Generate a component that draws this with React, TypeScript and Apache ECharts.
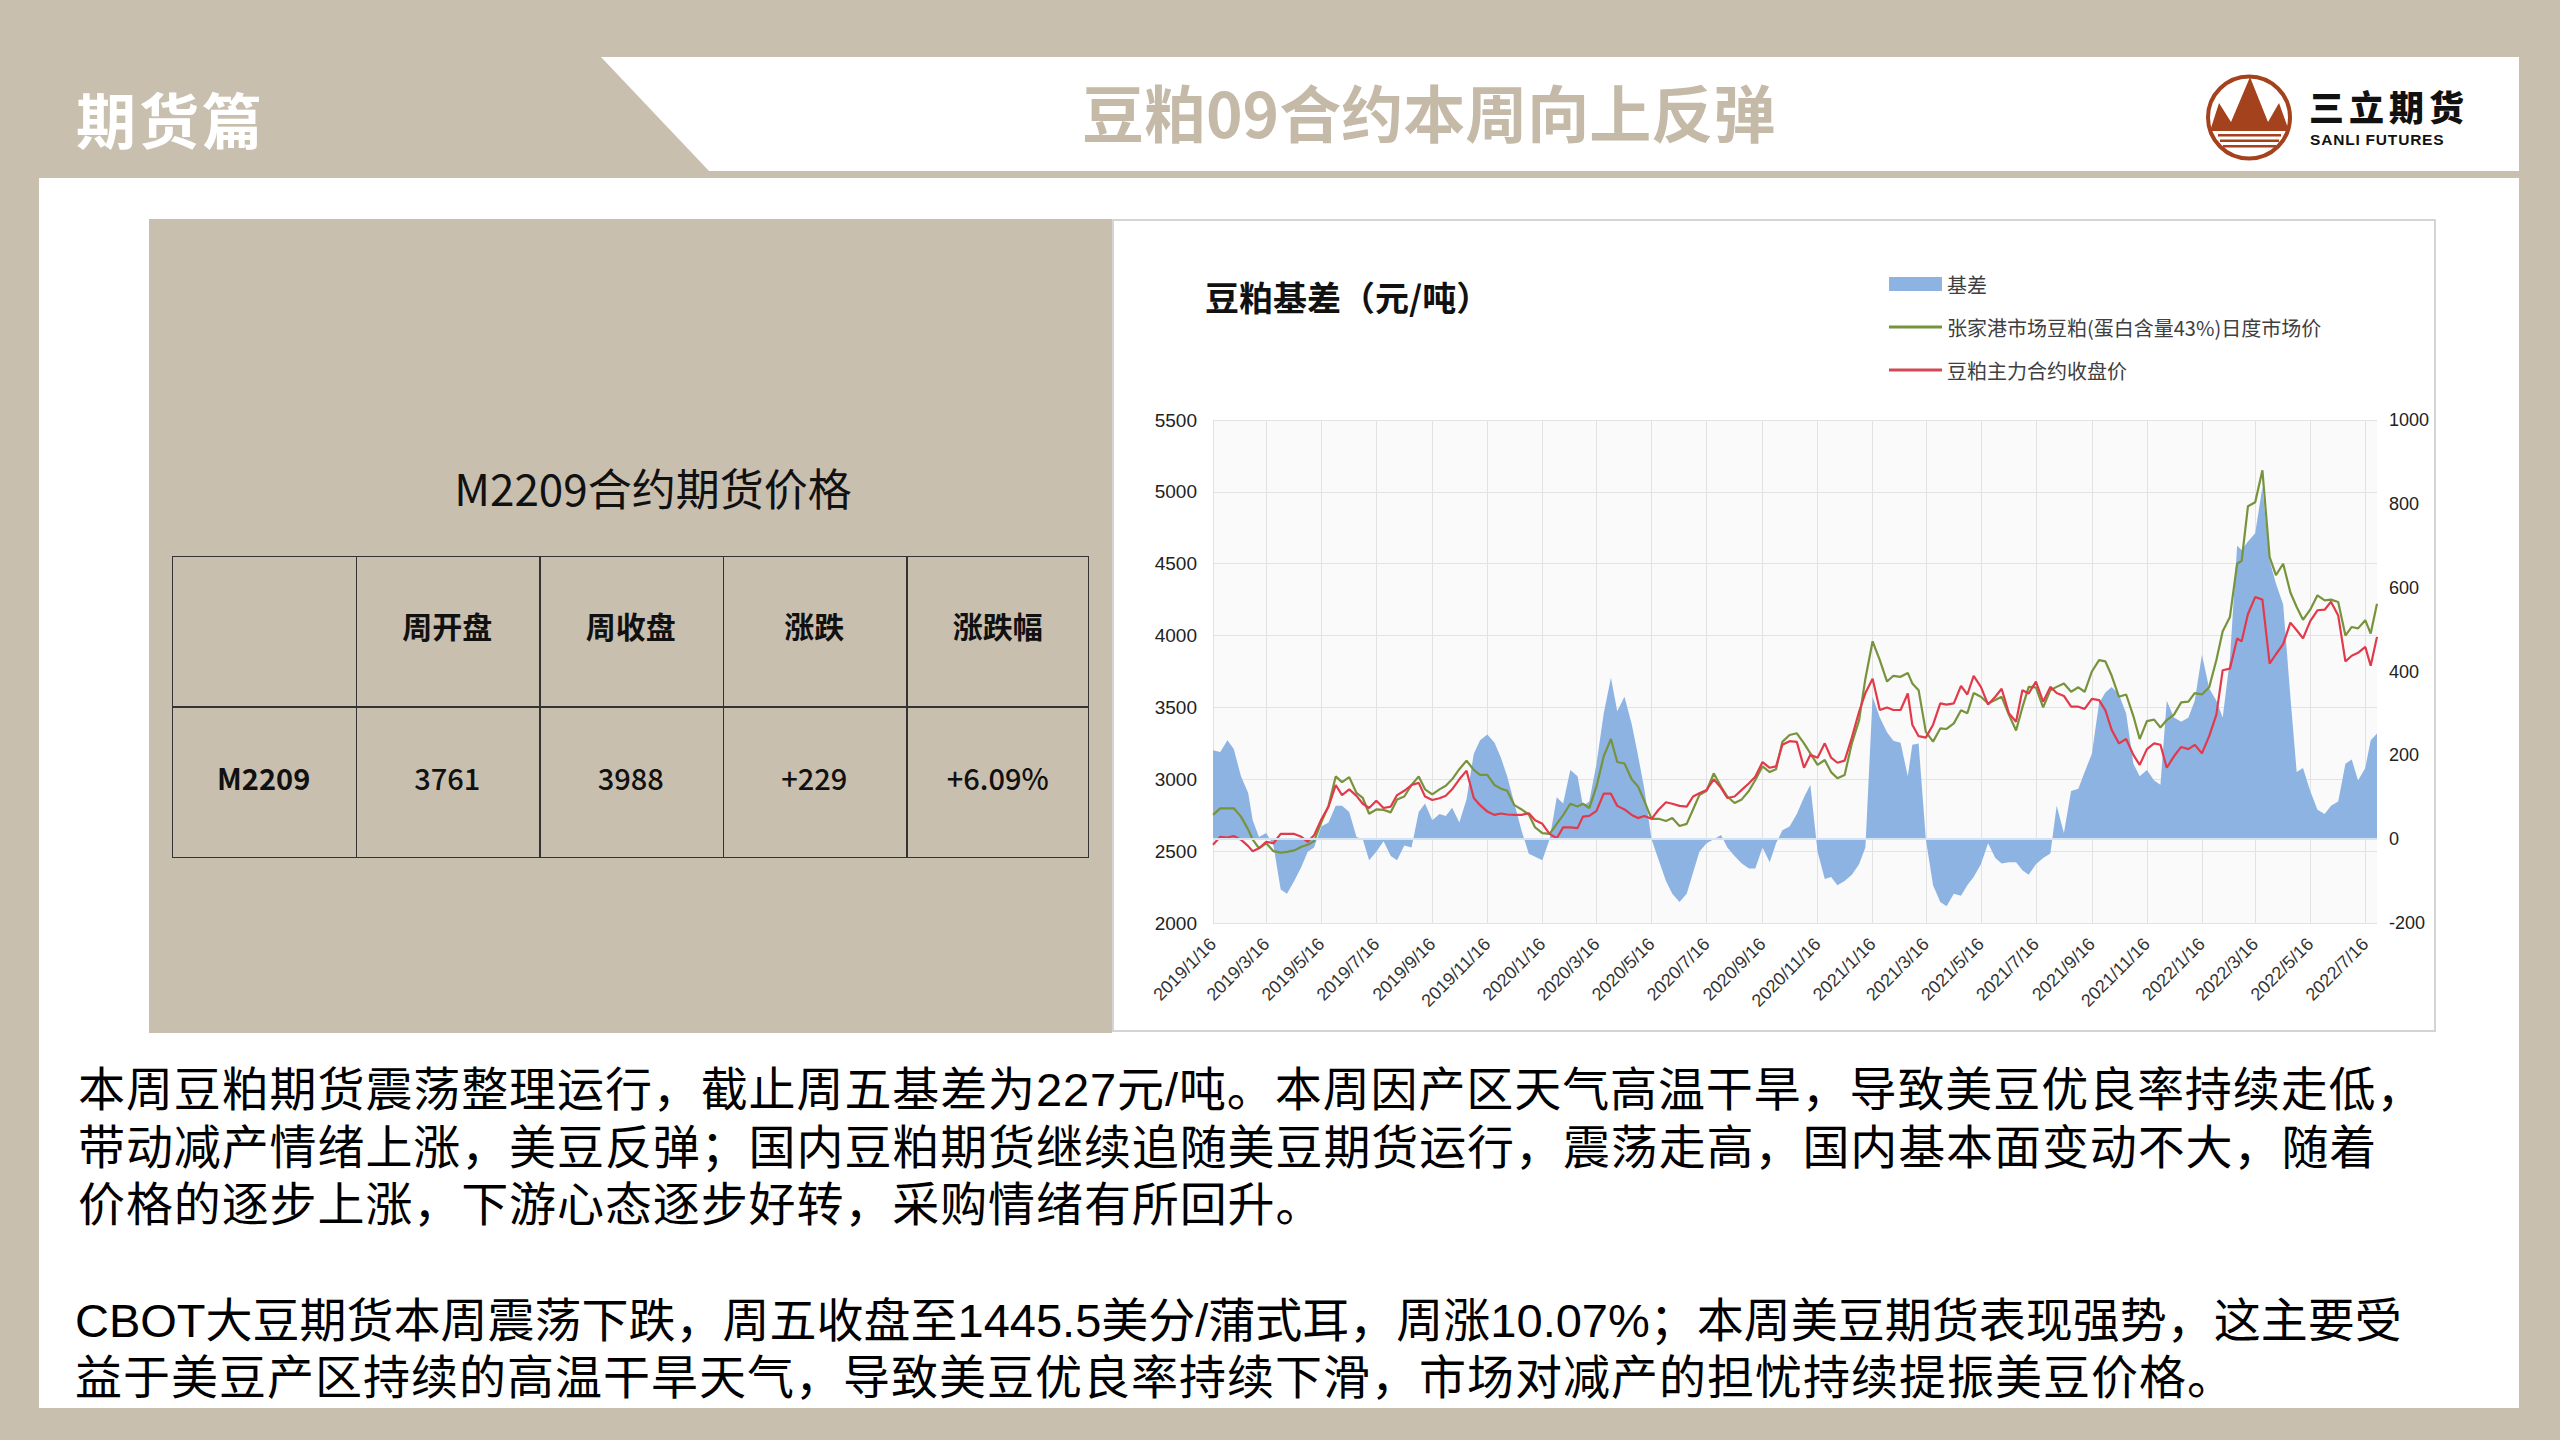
import React, { useEffect, useRef } from 'react';
import * as echarts from 'echarts';

// ---------- DATA ----------
const dates = [
  '2019-01-16','2019-01-24','2019-02-01','2019-02-08','2019-02-16','2019-02-24','2019-03-01','2019-03-08','2019-03-16','2019-03-24',
  '2019-04-01','2019-04-08','2019-04-16','2019-04-24','2019-05-01','2019-05-08','2019-05-16','2019-05-24','2019-06-01','2019-06-08',
  '2019-06-16','2019-06-24','2019-07-01','2019-07-08','2019-07-16','2019-07-24','2019-08-01','2019-08-08','2019-08-16','2019-08-24',
  '2019-09-01','2019-09-08','2019-09-16','2019-09-24','2019-10-01','2019-10-08','2019-10-16','2019-10-24','2019-11-01','2019-11-08',
  '2019-11-16','2019-11-24','2019-12-01','2019-12-08','2019-12-16','2019-12-24',
  '2020-01-01','2020-01-08','2020-01-16','2020-01-24','2020-02-01','2020-02-08','2020-02-16','2020-02-24','2020-03-01','2020-03-08',
  '2020-03-16','2020-03-24','2020-04-01','2020-04-08','2020-04-16','2020-04-24','2020-05-01','2020-05-08','2020-05-16','2020-05-24',
  '2020-06-01','2020-06-08','2020-06-16','2020-06-24','2020-07-01','2020-07-08','2020-07-16','2020-07-24','2020-08-01','2020-08-08',
  '2020-08-16','2020-08-24','2020-09-01','2020-09-08','2020-09-16','2020-09-24','2020-10-01','2020-10-08','2020-10-16','2020-10-24',
  '2020-11-01','2020-11-08','2020-11-16','2020-11-24','2020-12-01','2020-12-08','2020-12-16','2020-12-24',
  '2021-01-01','2021-01-08','2021-01-16','2021-01-24','2021-02-01','2021-02-08','2021-02-16','2021-02-24','2021-03-01','2021-03-08',
  '2021-03-16','2021-03-24','2021-04-01','2021-04-08','2021-04-16','2021-04-24','2021-05-01','2021-05-08','2021-05-16','2021-05-24',
  '2021-06-01','2021-06-08','2021-06-16','2021-06-24','2021-07-01','2021-07-08','2021-07-16','2021-07-24','2021-08-01','2021-08-08',
  '2021-08-16','2021-08-24','2021-09-01','2021-09-08','2021-09-16','2021-09-24','2021-10-01','2021-10-08','2021-10-16','2021-10-24',
  '2021-11-01','2021-11-08','2021-11-16','2021-11-24','2021-12-01','2021-12-08','2021-12-16','2021-12-24',
  '2022-01-01','2022-01-08','2022-01-16','2022-01-24','2022-02-01','2022-02-08','2022-02-16','2022-02-24','2022-03-01','2022-03-08',
  '2022-03-16','2022-03-24','2022-04-01','2022-04-08','2022-04-16','2022-04-24','2022-05-01','2022-05-08','2022-05-16','2022-05-24',
  '2022-06-01','2022-06-08','2022-06-16','2022-06-24','2022-07-01','2022-07-08','2022-07-16','2022-07-22','2022-07-29',
];

// 基差 (right axis)
const basis = [
  212, 208, 236, 215, 150, 110, 45, 5, 15, -15,
  -120, -130, -100, -66, -30, -20, 30, 40, 80, 80,
  65, 5, 0, -50, -30, -5, -40, -50, -15, -20,
  65, 85, 45, 60, 55, 75, 40, 95, 204, 236,
  250, 230, 195, 150, 85, 20,
  -35, -42, -50, 0, 100, 85, 165, 150, 80, 90,
  180, 300, 385, 305, 340, 275, 200, 120, 0, -50,
  -100, -130, -150, -130, -80, -30, -10, 0, 10, -20,
  -40, -58, -70, -70, -20, -55, -10, 21, 30, 60,
  100, 130, -30, -95, -90, -110, -100, -85,
  -60, -20, 340, 290, 255, 235, 230, 150, 225, 228,
  0, -110, -150, -160, -130, -135, -110, -90, -60, -10,
  -45, -58, -55, -55, -74, -85, -60, -45, -34, 80,
  15, 115, 120, 160, 204, 325, 350, 363, 345, 300,
  180, 150, 165, 140, 130, 330, 290, 280,
  290, 330, 440, 360, 330, 290, 430, 700, 690, 710,
  730, 840, 665, 610, 560, 340, 160, 170, 115, 70,
  60, 80, 90, 180, 190, 140, 170, 236, 252,
];

// 张家港市场豆粕(蛋白含量43%)日度市场价 (left axis)
const spotPrice = [
  2752, 2798, 2798, 2798, 2740, 2650, 2580, 2520, 2555, 2500,
  2490, 2495, 2505, 2530, 2545, 2570, 2700, 2815, 3020, 2980,
  3015, 2905, 2870, 2760, 2790, 2787, 2770, 2860, 2880, 2960,
  3020, 2930, 2895, 2930, 2955, 3000, 3070, 3130, 3065, 3030,
  3030, 2960, 2935, 2920, 2820, 2790,
  2755, 2665, 2625, 2620, 2690, 2750, 2830, 2810, 2830, 2800,
  2950, 3160, 3280, 3120, 3110, 3000, 2950, 2850, 2725, 2725,
  2710, 2730, 2675, 2690, 2790, 2890, 2920, 3040, 2950, 2880,
  2835, 2860, 2920, 2995, 3090, 3050, 3070, 3260, 3308, 3320,
  3250, 3180, 3100, 3134, 3050, 3007, 3030, 3250,
  3410, 3700, 3960, 3829, 3680, 3720, 3713, 3740, 3667, 3620,
  3330, 3262, 3354, 3350, 3389, 3480, 3460, 3600, 3574, 3528,
  3551, 3574, 3450, 3340, 3500, 3643, 3640, 3500, 3620, 3643,
  3667, 3609, 3640, 3609, 3750, 3829, 3820, 3720, 3574, 3590,
  3440, 3280, 3405, 3415, 3360, 3412, 3450, 3535,
  3540, 3600, 3590, 3640, 3830, 4030, 4130, 4500, 4520, 4900,
  4928, 5150, 4546, 4420, 4500, 4300, 4199, 4110, 4180, 4280,
  4245, 4250, 4234, 4000, 4060, 4050, 4107, 4014, 4222,
];

// 豆粕主力合约收盘价 (left axis)
const futuresClose = [
  2544, 2600, 2595, 2605, 2580, 2535, 2500, 2520, 2565, 2555,
  2620, 2620, 2620, 2600, 2565, 2610, 2720, 2810, 2960, 2890,
  2930, 2885, 2830, 2800, 2850, 2800, 2810, 2890, 2920, 2960,
  2975, 2880, 2856, 2868, 2885, 2930, 3000, 3060, 2870, 2820,
  2775, 2752, 2762, 2755, 2752, 2752,
  2764, 2715, 2690, 2620, 2590, 2665, 2665, 2660, 2740, 2745,
  2780, 2900, 2900, 2815, 2790, 2752, 2730, 2745, 2725, 2790,
  2840, 2830, 2815, 2810, 2880, 2903, 2926, 3000, 2940, 2870,
  2880, 2926, 2972, 3018, 3120, 3080, 3090, 3240, 3265, 3260,
  3080, 3170, 3150, 3250, 3150, 3115, 3130, 3290,
  3470, 3600, 3700, 3482, 3500, 3482, 3482, 3597, 3380, 3300,
  3290, 3380, 3528, 3520, 3528, 3650, 3590, 3720, 3643, 3520,
  3574, 3630, 3460, 3400, 3620, 3597, 3680, 3540, 3643, 3600,
  3580, 3505, 3505, 3490, 3560, 3551, 3480, 3343, 3250, 3280,
  3170, 3100, 3210, 3250, 3240, 3080, 3160, 3225,
  3210, 3240, 3180, 3300, 3450, 3759, 3770, 3980, 3960, 4150,
  4268, 4250, 3805, 3870, 3940, 4090, 4037, 3980, 4100, 4176,
  4180, 4235, 4140, 3820, 3860, 3880, 3921, 3790, 3991,
];

const xTickDates = [
  '2019-01-16','2019-03-16','2019-05-16','2019-07-16','2019-09-16','2019-11-16',
  '2020-01-16','2020-03-16','2020-05-16','2020-07-16','2020-09-16','2020-11-16',
  '2021-01-16','2021-03-16','2021-05-16','2021-07-16','2021-09-16','2021-11-16',
  '2022-01-16','2022-03-16','2022-05-16','2022-07-16',
];

const seriesNames = ['基差', '张家港市场豆粕(蛋白含量43%)日度市场价', '豆粕主力合约收盘价'];
const tableHeader = ['', '周开盘', '周收盘', '涨跌', '涨跌幅'];
const tableRow = ['M2209', '3761', '3988', '+229', '+6.09%'];

const paragraph1 = [
  '本周豆粕期货震荡整理运行，截止周五基差为227元/吨。本周因产区天气高温干旱，导致美豆优良率持续走低，',
  '带动减产情绪上涨，美豆反弹；国内豆粕期货继续追随美豆期货运行，震荡走高，国内基本面变动不大，随着',
  '价格的逐步上涨，下游心态逐步好转，采购情绪有所回升。',
];
const paragraph2 = [
  'CBOT大豆期货本周震荡下跌，周五收盘至1445.5美分/蒲式耳，周涨10.07%；本周美豆期货表现强势，这主要受',
  '益于美豆产区持续的高温干旱天气，导致美豆优良率持续下滑，市场对减产的担忧持续提振美豆价格。',
];

// ---------- STYLE ----------
const BG = '#C8BFAF';
const CJK = "'Noto Sans CJK SC', 'Noto Sans', sans-serif";
const LATIN = "'Liberation Sans', Arial, sans-serif";
const BODY_FONT = "'Liberation Sans', 'Noto Sans CJK SC', sans-serif";
const BLUE = '#8DB3E2';
const GREEN = '#77933C';
const RED = '#E23A4B';
const LINE_ICON = 'path://M0,0M53,14M0,5.5L53,5.5L53,8.5L0,8.5Z';

const toTs = (s: string) => {
  const [y, m, d] = s.split('-').map(Number);
  return new Date(y, m - 1, d).getTime();
};

function buildOption() {
  const ts = dates.map(toTs);
  const tickTs = xTickDates.map(toTs);
  return {
    animation: false,
    backgroundColor: '#FFFFFF',
    title: {
      text: '豆粕基差（元/吨）',
      left: 88,
      top: 55,
      textStyle: { fontFamily: CJK, fontSize: 34, fontWeight: 'bold', color: '#111' },
    },
    legend: {
      orient: 'vertical',
      left: 772,
      top: 50,
      itemWidth: 53,
      itemHeight: 14,
      itemGap: 23,
      textStyle: { fontFamily: CJK, fontSize: 20, color: '#404040' },
      data: [
        { name: seriesNames[0], icon: 'rect', itemStyle: { color: BLUE } },
        { name: seriesNames[1], icon: LINE_ICON, itemStyle: { color: GREEN } },
        { name: seriesNames[2], icon: LINE_ICON, itemStyle: { color: '#D04A55' } },
      ],
    },
    grid: {
      left: 101,
      right: 59,
      top: 201,
      bottom: 109,
      show: true,
      backgroundColor: '#FAFAFA',
      borderWidth: 0,
    },
    xAxis: {
      type: 'value',
      min: toTs('2019-01-16'),
      max: toTs('2022-07-29'),
      axisLine: { show: false },
      axisTick: { show: false, customValues: tickTs },
      splitLine: { show: true, lineStyle: { color: '#E2E2E2', width: 1 } },
      axisLabel: {
        customValues: tickTs,
        rotate: 45,
        margin: 18,
        fontSize: 18,
        color: '#333',
        fontFamily: LATIN,
        formatter: (v: number) => {
          const d = new Date(v);
          return `${d.getFullYear()}/${d.getMonth() + 1}/${d.getDate()}`;
        },
      },
    },
    yAxis: [
      {
        type: 'value',
        position: 'left',
        min: 2000,
        max: 5500,
        interval: 500,
        axisLine: { show: false },
        axisTick: { show: false },
        splitLine: { show: true, lineStyle: { color: '#E2E2E2', width: 1 } },
        axisLabel: {
          fontSize: 19,
          color: '#222',
          margin: 16,
          fontFamily: LATIN,
          formatter: (v: number) => String(v),
        },
      },
      {
        type: 'value',
        position: 'right',
        min: -200,
        max: 1000,
        interval: 200,
        axisLine: { show: false },
        axisTick: { show: false },
        splitLine: { show: false },
        axisLabel: {
          fontSize: 18,
          color: '#222',
          margin: 12,
          fontFamily: LATIN,
          formatter: (v: number) => String(v),
        },
      },
    ],
    series: [
      {
        name: seriesNames[0],
        type: 'line',
        yAxisIndex: 1,
        symbol: 'none',
        data: ts.map((t, i) => [t, basis[i]]),
        lineStyle: { width: 0, color: BLUE },
        itemStyle: { color: BLUE },
        areaStyle: { color: BLUE, opacity: 1 },
        markLine: {
          silent: true,
          symbol: 'none',
          label: { show: false },
          lineStyle: { color: '#D6E3F3', width: 2, type: 'solid' },
          data: [{ yAxis: 0 }],
        },
        z: 1,
      },
      {
        name: seriesNames[1],
        type: 'line',
        yAxisIndex: 0,
        symbol: 'none',
        data: ts.map((t, i) => [t, spotPrice[i]]),
        lineStyle: { width: 2.2, color: GREEN },
        itemStyle: { color: GREEN },
        z: 2,
      },
      {
        name: seriesNames[2],
        type: 'line',
        yAxisIndex: 0,
        symbol: 'none',
        data: ts.map((t, i) => [t, futuresClose[i]]),
        lineStyle: { width: 2.2, color: RED },
        itemStyle: { color: RED },
        z: 3,
      },
    ],
    graphic: [
      {
        type: 'rect',
        silent: true,
        shape: { x: 1, y: 1, width: 1322, height: 811 },
        style: { fill: 'none', stroke: '#D4D4D4', lineWidth: 2 },
        z: 100,
      },
    ],
  };
}

function Chart() {
  const ref = useRef<HTMLDivElement>(null);
  useEffect(() => {
    if (!ref.current) return;
    const chart = echarts.init(ref.current, null, { renderer: 'svg' });
    chart.setOption(buildOption() as any);
    return () => chart.dispose();
  }, []);
  return (
    <div
      ref={ref}
      style={{ position: 'absolute', left: 1112, top: 219, width: 1324, height: 813 }}
    />
  );
}

function Logo() {
  return (
    <svg
      style={{ position: 'absolute', left: 2200, top: 70 }}
      width={100}
      height={100}
      viewBox="0 0 100 100"
    >
      <circle cx={49} cy={47.5} r={41} fill="#FFFFFF" stroke="#A4421D" strokeWidth={4} />
      <polygon points="11,58 19,33 31,52 50,7 68,52 79,33 88,58" fill="#A4421D" />
      <rect x={10} y={58} width={79} height={3} fill="#A4421D" />
      <rect x={18} y={64} width={63} height={2.5} fill="#A4421D" />
      <rect x={20} y={69.5} width={59} height={2.5} fill="#A4421D" />
      <rect x={23} y={75} width={53} height={2.5} fill="#A4421D" />
    </svg>
  );
}

export default function App() {
  useEffect(() => {
    document.body.style.margin = '0';
  }, []);
  const colLeft = [172, 355.5, 539, 722.5, 906];
  const colW = 183.4;
  return (
    <div
      style={{
        position: 'absolute',
        left: 0,
        top: 0,
        width: 2560,
        height: 1440,
        background: BG,
        overflow: 'hidden',
        fontFamily: CJK,
      }}
    >
      <svg style={{ position: 'absolute', left: 0, top: 0 }} width={2560} height={1440}>
        <polygon points="601,57 2519,57 2519,171 709,171" fill="#FFFFFF" />
        <rect x={39} y={178} width={2480} height={1230} fill="#FFFFFF" />
        <rect x={149} y={219} width={963} height={814} fill={BG} />
      </svg>

      {/* header */}
      <div
        style={{
          position: 'absolute',
          left: 76,
          top: 86,
          fontSize: 60,
          lineHeight: '64px',
          fontWeight: 700,
          letterSpacing: 3,
          color: '#FFFFFF',
          whiteSpace: 'nowrap',
        }}
      >
        期货篇
      </div>
      <div
        style={{
          position: 'absolute',
          left: 1082,
          top: 78,
          fontSize: 62,
          lineHeight: '66px',
          fontWeight: 700,
          color: '#C4BAA7',
          whiteSpace: 'nowrap',
        }}
      >
        豆粕09合约本周向上反弹
      </div>
      <Logo />
      <div
        style={{
          position: 'absolute',
          left: 2309,
          top: 86,
          fontSize: 35,
          lineHeight: '40px',
          fontWeight: 900,
          letterSpacing: 5,
          color: '#111',
          whiteSpace: 'nowrap',
        }}
      >
        三立期货
      </div>
      <div
        style={{
          position: 'absolute',
          left: 2310,
          top: 130,
          fontSize: 15.5,
          lineHeight: '20px',
          fontWeight: 700,
          letterSpacing: 0.8,
          color: '#111',
          fontFamily: LATIN,
          whiteSpace: 'nowrap',
        }}
      >
        SANLI FUTURES
      </div>

      {/* table panel */}
      <div
        style={{
          position: 'absolute',
          left: 433,
          top: 461,
          width: 440,
          textAlign: 'center',
          fontSize: 44,
          lineHeight: '52px',
          color: '#111',
          whiteSpace: 'nowrap',
        }}
      >
        M2209合约期货价格
      </div>
      <div
        style={{
          position: 'absolute',
          left: 172,
          top: 556,
          width: 917,
          height: 302,
          border: '1.5px solid #333',
          boxSizing: 'border-box',
        }}
      />
      <div style={{ position: 'absolute', left: 172, top: 706, width: 917, height: 1.5, background: '#333' }} />
      {colLeft.slice(1).map((x, i) => (
        <div
          key={'v' + i}
          style={{ position: 'absolute', left: x, top: 556, width: 1.5, height: 302, background: '#333' }}
        />
      ))}
      {tableHeader.map((t, i) => (
        <div
          key={'h' + i}
          style={{
            position: 'absolute',
            left: colLeft[i],
            top: 550,
            width: colW,
            height: 151,
            lineHeight: '151px',
            textAlign: 'center',
            fontSize: 30,
            fontWeight: 700,
            color: '#111',
          }}
        >
          {t}
        </div>
      ))}
      {tableRow.map((t, i) => (
        <div
          key={'r' + i}
          style={{
            position: 'absolute',
            left: colLeft[i],
            top: 702,
            width: colW,
            height: 151,
            lineHeight: '151px',
            textAlign: 'center',
            fontSize: 29,
            fontWeight: i === 0 ? 700 : 500,
            color: '#111',
          }}
        >
          {t}
        </div>
      ))}

      <Chart />

      {/* paragraphs */}
      <div
        style={{
          position: 'absolute',
          left: 78,
          top: 1061,
          fontSize: 47,
          lineHeight: '57.5px',
          letterSpacing: 0.9,
          color: '#000',
          whiteSpace: 'nowrap',
          fontFamily: BODY_FONT,
        }}
      >
        {paragraph1.map((line, i) => (
          <React.Fragment key={'p1' + i}>
            {line}
            {i < paragraph1.length - 1 ? <br /> : null}
          </React.Fragment>
        ))}
      </div>
      <div
        style={{
          position: 'absolute',
          left: 75,
          top: 1292,
          fontSize: 47,
          lineHeight: '57px',
          color: '#000',
          whiteSpace: 'nowrap',
          fontFamily: BODY_FONT,
        }}
      >
        <span>{paragraph2[0]}</span>
        <br />
        <span style={{ letterSpacing: 1 }}>{paragraph2[1]}</span>
      </div>
    </div>
  );
}
